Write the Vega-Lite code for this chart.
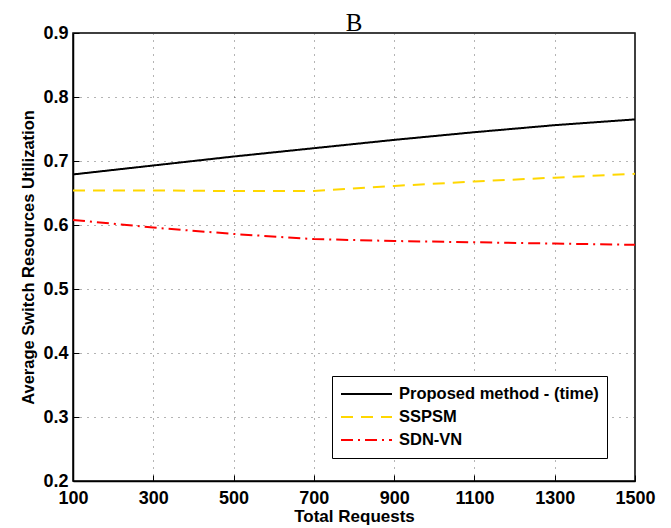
{
  "$schema": "https://vega.github.io/schema/vega-lite/v6.json",
  "autosize": {"type": "none"},
  "padding": {"left": 73, "top": 33, "right": 36, "bottom": 47},
  "width": 562,
  "height": 448,
  "background": "white",
  "title": {"text": "B", "font": "Liberation Serif", "fontSize": 25, "fontWeight": "normal", "color": "black", "offset": -12},
  "config": {
    "view": {"stroke": "black", "strokeWidth": 1.5},
    "axis": {
      "labelFont": "Liberation Sans", "labelFontWeight": "bold", "labelFontSize": 18, "labelColor": "black",
      "titleFont": "Liberation Sans", "titleFontWeight": "bold", "titleFontSize": 16.5, "titleColor": "black",
      "domainColor": "black", "domainWidth": 1.5,
      "gridColor": "#444444", "gridDash": [1, 6], "gridWidth": 1, "gridOpacity": 0.8,
      "tickColor": "black", "tickSize": -6, "tickWidth": 1
    }
  },
  "data": {
    "values": [
      {"req": 100, "util": 0.679, "method": "Proposed method - (time)"},
      {"req": 300, "util": 0.693, "method": "Proposed method - (time)"},
      {"req": 500, "util": 0.707, "method": "Proposed method - (time)"},
      {"req": 700, "util": 0.720, "method": "Proposed method - (time)"},
      {"req": 900, "util": 0.733, "method": "Proposed method - (time)"},
      {"req": 1100, "util": 0.745, "method": "Proposed method - (time)"},
      {"req": 1300, "util": 0.756, "method": "Proposed method - (time)"},
      {"req": 1500, "util": 0.765, "method": "Proposed method - (time)"},
      {"req": 100, "util": 0.654, "method": "SSPSM"},
      {"req": 300, "util": 0.654, "method": "SSPSM"},
      {"req": 500, "util": 0.653, "method": "SSPSM"},
      {"req": 700, "util": 0.653, "method": "SSPSM"},
      {"req": 900, "util": 0.661, "method": "SSPSM"},
      {"req": 1100, "util": 0.668, "method": "SSPSM"},
      {"req": 1300, "util": 0.674, "method": "SSPSM"},
      {"req": 1500, "util": 0.680, "method": "SSPSM"},
      {"req": 100, "util": 0.608, "method": "SDN-VN"},
      {"req": 300, "util": 0.596, "method": "SDN-VN"},
      {"req": 500, "util": 0.586, "method": "SDN-VN"},
      {"req": 700, "util": 0.578, "method": "SDN-VN"},
      {"req": 900, "util": 0.575, "method": "SDN-VN"},
      {"req": 1100, "util": 0.573, "method": "SDN-VN"},
      {"req": 1300, "util": 0.571, "method": "SDN-VN"},
      {"req": 1500, "util": 0.569, "method": "SDN-VN"}
    ]
  },
  "mark": {"type": "line", "strokeWidth": 2},
  "encoding": {
    "x": {
      "field": "req", "type": "quantitative", "title": "Total Requests",
      "scale": {"domain": [100, 1500], "nice": false, "zero": false},
      "axis": {"values": [100, 300, 500, 700, 900, 1100, 1300, 1500], "format": "d", "labelPadding": 14, "titlePadding": 1, "titleFontSize": 17, "labelFlush": false}
    },
    "y": {
      "field": "util", "type": "quantitative", "title": "Average Switch Resources Utilization",
      "scale": {"domain": [0.2, 0.9], "nice": false, "zero": false},
      "axis": {"values": [0.2, 0.3, 0.4, 0.5, 0.6, 0.7, 0.8, 0.9], "format": ".1f", "labelPadding": 11, "titlePadding": 6, "labelFlush": false}
    },
    "color": {
      "field": "method", "type": "nominal",
      "scale": {"domain": ["Proposed method - (time)", "SSPSM", "SDN-VN"], "range": ["black", "#FFD700", "red"]},
      "legend": {
        "title": null, "orient": "none", "legendX": 259, "legendY": 343,
        "symbolType": "stroke", "symbolSize": 2600, "symbolStrokeWidth": 2, "clipHeight": 20,
        "labelFont": "Liberation Sans", "labelFontWeight": "bold", "labelFontSize": 16.5, "labelColor": "black", "labelOffset": 6,
        "strokeColor": "black", "fillColor": "white", "padding": 8, "rowPadding": 3,
        "labelLimit": 300
      }
    },
    "strokeDash": {
      "field": "method", "type": "nominal",
      "scale": {"domain": ["Proposed method - (time)", "SSPSM", "SDN-VN"], "range": [[1, 0], [12, 8], [12, 5, 2, 5]]},
      "legend": {
        "title": null, "orient": "none", "legendX": 259, "legendY": 343,
        "symbolType": "stroke", "symbolSize": 2600, "symbolStrokeWidth": 2, "clipHeight": 20,
        "labelFont": "Liberation Sans", "labelFontWeight": "bold", "labelFontSize": 16.5, "labelColor": "black", "labelOffset": 6,
        "strokeColor": "black", "fillColor": "white", "padding": 8, "rowPadding": 3,
        "labelLimit": 300
      }
    }
  }
}
